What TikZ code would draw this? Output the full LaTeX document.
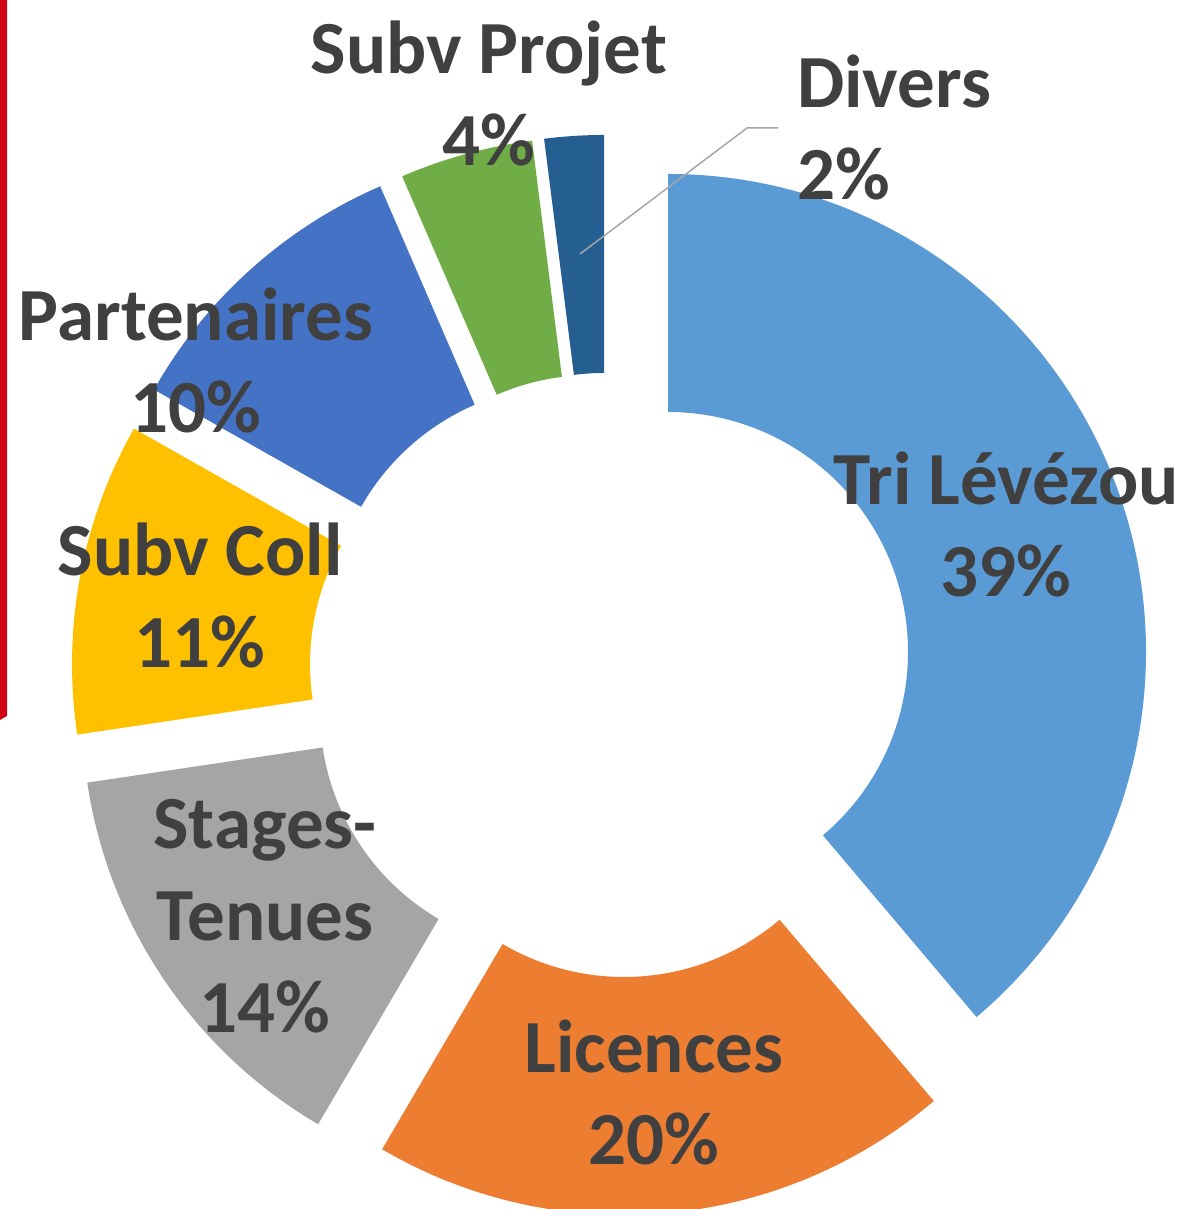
\documentclass[tikz,border=0pt]{standalone}
\usepackage{fontspec}
\setmainfont{Carlito}
\usepackage{tikz}
\usetikzlibrary{positioning}

\definecolor{trib}{HTML}{5B9BD5}
\definecolor{licor}{HTML}{ED7D31}
\definecolor{stagr}{HTML}{A5A5A5}
\definecolor{collj}{HTML}{FFC000}
\definecolor{partb}{HTML}{4472C4}
\definecolor{projv}{HTML}{70AD47}
\definecolor{divb}{HTML}{255E91}
\definecolor{txtg}{HTML}{404040}
\definecolor{barr}{RGB}{210,0,20}

% one piece of the ring: centre, start angle, end angle, colour
\newcommand{\donutpart}[4]{%
  \fill[#4] (#1) ++(#2:478) arc[start angle=#2, end angle=#3, radius=478]
    -- ++({#3+180}:238) arc[start angle=#3, end angle=#2, radius=240] -- cycle;}

\begin{document}
\begin{tikzpicture}[x=1pt, y=1pt,
  lbl/.style={align=center, inner sep=0pt, text=txtg, anchor=base,
    font=\fontsize{75}{92}\selectfont\bfseries},
  leader/.style={draw=black!35, line width=1.5pt}]
\useasboundingbox (0,0) rectangle (1188,1209);
\clip (0,0) rectangle (1188,1209);

\fill[barr] (0,1209) -- (7,1209) -- (7,493) -- (0,489) -- cycle;

\donutpart{668,557}{90}{-49.8}{trib}
\donutpart{624,472}{-49.6}{-120.4}{licor}
\donutpart{560,497}{-120.4}{-171.5}{stagr}
\donutpart{550,545}{-171.5}{-209.5}{collj}
\donutpart{570,584}{150.5}{113.4}{partb}
\donutpart{592,594}{113.4}{97.2}{projv}
\donutpart{604,596}{97.2}{90}{divb}

% labels: anchor is the baseline of the last line
\node[lbl] (tri) at (1006,612) {Tri Lévézou\\39\%};
\node[lbl] (licences) at (654,44) {Licences\\20\%};
\node[lbl] (stages) at (265,176) {Stages-\\Tenues\\14\%};
\node[lbl] (subvcoll) at (200,541) {Subv Coll\\11\%};
\node[lbl] (partenaires) at (196,776) {Partenaires\\10\%};
\node[lbl] (subvprojet) at (489,1043) {Subv Projet\\4\%};
\node[lbl, anchor=base west, align=left] (divers) at (797,1009) {Divers\\2\%};

\coordinate (diverspt) at (580,955);
\draw[leader] ([xshift=-19pt]divers.west) -- ++(-31,0) -- (diverspt);
\end{tikzpicture}
\end{document}
